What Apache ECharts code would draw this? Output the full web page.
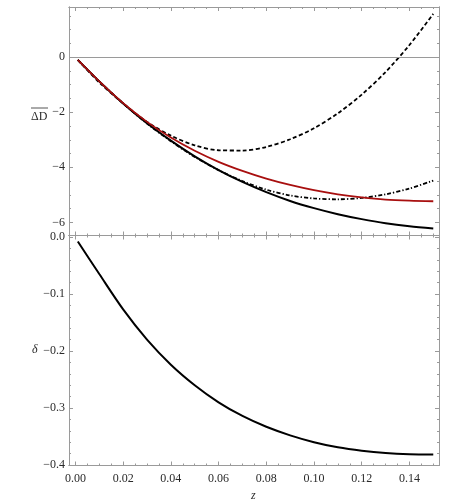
<!DOCTYPE html>
<html>
<head>
<meta charset="utf-8">
<script src="https://cdn.jsdelivr.net/npm/echarts@6/dist/echarts.min.js"></script>
<style>
  html, body { margin: 0; padding: 0; background: #fff; }
  #chart { width: 459px; height: 503px; }
</style>
</head>
<body>
<div id="chart"></div>
<script>
// z samples
var z = [0.001, 0.01, 0.02, 0.03, 0.04, 0.05, 0.06, 0.07, 0.08, 0.09, 0.10, 0.11, 0.12, 0.13, 0.14, 0.15];
// top panel curves
var exactD  = [-0.10, -0.88, -1.68, -2.40, -3.03, -3.60, -4.10, -4.53, -4.90, -5.22, -5.48, -5.70, -5.88, -6.03, -6.14, -6.22];
var redD    = [-0.10, -0.88, -1.67, -2.35, -2.92, -3.40, -3.80, -4.13, -4.41, -4.64, -4.83, -4.98, -5.09, -5.17, -5.21, -5.23];
var dashedD = [-0.10, -0.92, -1.68, -2.35, -2.85, -3.20, -3.38, -3.39, -3.26, -2.98, -2.58, -2.04, -1.36, -0.54, 0.44, 1.57];
var dotDashD = [-0.10, -0.88, -1.68, -2.41, -3.05, -3.62, -4.10, -4.50, -4.81, -5.02, -5.13, -5.16, -5.11, -4.98, -4.77, -4.48];
// bottom panel curve
var delta = [-0.008, -0.065, -0.127, -0.180, -0.224, -0.260, -0.290, -0.314, -0.333, -0.348, -0.360, -0.369, -0.375, -0.379, -0.381, -0.3815];

// ticks
var zTicks = [0, 0.02, 0.04, 0.06, 0.08, 0.10, 0.12, 0.14];
var dTicks = [-6, -4, -2, 0];
var deltaTicks = [-0.4, -0.3, -0.2, -0.1, 0];

var zMin = -0.0027, zMax = 0.1524;
var frame = '#9a9a9a';
var labelFont = { fontFamily: 'Liberation Serif', fontSize: 12, color: '#2a2a2a' };

function pairs(ys) {
  return z.map(function (v, i) { return [v, ys[i]]; });
}
function minors(from, to, step, majors) {
  var out = [];
  for (var v = from; v <= to + 1e-9; v += step) {
    var r = Math.round(v * 1e6) / 1e6;
    var isMajor = majors.some(function (m) { return Math.abs(m - r) < 1e-9; });
    if (!isMajor) out.push(r);
  }
  return out;
}
function fmt(d) {
  return function (v) {
    return (v < -1e-9 ? '\u2212' : '') + Math.abs(v).toFixed(d);
  };
}

var zMinor = minors(0, 0.15, 0.005, zTicks);
var dMinor = minors(-6.5, 1.5, 0.5, dTicks);
var deltaMinor = minors(-0.4, 0, 0.02, deltaTicks);

function xAx(grid, pos, ticks, len, labels) {
  return {
    type: 'value', gridIndex: grid, position: pos, min: zMin, max: zMax,
    axisLine: { show: true, onZero: false, lineStyle: { color: frame, width: 1 } },
    axisTick: { show: true, inside: true, length: len, customValues: ticks, lineStyle: { color: frame, width: 1 } },
    axisLabel: labels ? Object.assign({ show: true, customValues: zTicks, formatter: fmt(2), margin: 7 }, labelFont) : { show: false },
    splitLine: { show: false }
  };
}
function yAx(grid, pos, lo, hi, ticks, len, labelVals, digits) {
  return {
    type: 'value', gridIndex: grid, position: pos, min: lo, max: hi,
    axisLine: { show: true, onZero: false, lineStyle: { color: frame, width: 1 } },
    axisTick: { show: true, inside: true, length: len, customValues: ticks, lineStyle: { color: frame, width: 1 } },
    axisLabel: labelVals ? Object.assign({ show: true, customValues: labelVals, formatter: fmt(digits), margin: 4 }, labelFont) : { show: false },
    splitLine: { show: false }
  };
}

var topLo = -6.474, topHi = 1.82;
var botLo = -0.4009, botHi = 0.0026;

var chart = echarts.init(document.getElementById('chart'));
chart.setOption({
  animation: false,
  backgroundColor: '#fff',
  grid: [
    { left: 69, top: 7, width: 370, height: 228.5 },
    { left: 69, top: 235.5, width: 370, height: 230 }
  ],
  xAxis: [
    xAx(0, 'bottom', zTicks, 4, false),   // 0
    xAx(0, 'bottom', zMinor, 2, false),
    xAx(0, 'top', zTicks, 4, false),
    xAx(0, 'top', zMinor, 2, false),
    xAx(1, 'bottom', zTicks, 4, true),    // 4
    xAx(1, 'bottom', zMinor, 2, false),
    xAx(1, 'top', zTicks, 4, false),
    xAx(1, 'top', zMinor, 2, false)
  ],
  yAxis: [
    yAx(0, 'left', topLo, topHi, dTicks, 4, dTicks, 0),   // 0
    yAx(0, 'left', topLo, topHi, dMinor, 2, null),
    yAx(0, 'right', topLo, topHi, dTicks, 4, null),
    yAx(0, 'right', topLo, topHi, dMinor, 2, null),
    yAx(1, 'left', botLo, botHi, deltaTicks, 4, deltaTicks, 1), // 4
    yAx(1, 'left', botLo, botHi, deltaMinor, 2, null),
    yAx(1, 'right', botLo, botHi, deltaTicks, 4, null),
    yAx(1, 'right', botLo, botHi, deltaMinor, 2, null)
  ],
  series: [
    {
      type: 'line', xAxisIndex: 0, yAxisIndex: 0, data: pairs(exactD),
      smooth: 0.3, showSymbol: false, lineStyle: { color: '#000', width: 2 },
      markLine: {
        silent: true, symbol: 'none', label: { show: false },
        lineStyle: { color: frame, width: 1, type: 'solid' },
        data: [{ yAxis: 0 }]
      },
      z: 2
    },
    {
      type: 'line', xAxisIndex: 0, yAxisIndex: 0, data: pairs(dashedD),
      smooth: 0.3, showSymbol: false, lineStyle: { color: '#000', width: 1.8, type: [4, 2.5] }, z: 3
    },
    {
      type: 'line', xAxisIndex: 0, yAxisIndex: 0, data: pairs(dotDashD),
      smooth: 0.3, showSymbol: false, lineStyle: { color: '#000', width: 1.8, type: [4, 2, 1.3, 2] }, z: 3
    },
    {
      type: 'line', xAxisIndex: 0, yAxisIndex: 0, data: pairs(redD),
      smooth: 0.3, showSymbol: false, lineStyle: { color: '#a80f0f', width: 1.8 }, z: 4
    },
    {
      type: 'line', xAxisIndex: 4, yAxisIndex: 4, data: pairs(delta),
      smooth: 0.3, showSymbol: false, lineStyle: { color: '#000', width: 2 }, z: 2
    }
  ],
  graphic: [
    { type: 'text', left: 31, top: 111, style: { text: '\u0394D', font: '12px "Liberation Serif"', fill: '#2a2a2a' } },
    { type: 'line', shape: { x1: 31, y1: 108, x2: 48, y2: 108 }, style: { stroke: '#2a2a2a', lineWidth: 0.8 } },
    { type: 'text', left: 32, top: 344, style: { text: '\u03b4', font: 'italic 12px "Liberation Serif"', fill: '#2a2a2a' } },
    { type: 'text', left: 251, top: 490, style: { text: 'z', font: 'italic 12px "Liberation Serif"', fill: '#2a2a2a' } }
  ]
});
</script>
</body>
</html>
